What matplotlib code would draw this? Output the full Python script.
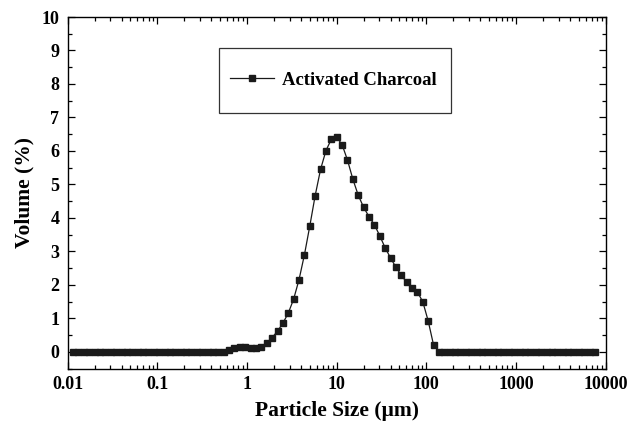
import matplotlib
matplotlib.use("Agg")
import matplotlib.pyplot as plt
from matplotlib.ticker import LogLocator, MultipleLocator, FixedLocator, FixedFormatter, NullFormatter
from matplotlib.patches import Rectangle

plt.rcParams['font.family'] = ['Liberation Serif', 'DejaVu Serif']
plt.rcParams['font.weight'] = 'bold'

# Particle size classes (µm)
particle_size = [
    0.011482, 0.013183, 0.015136, 0.017378, 0.019953, 0.022909, 0.026303, 0.030200,
    0.034674, 0.039811, 0.045709, 0.052481, 0.060256, 0.069183, 0.079433, 0.091201,
    0.10471, 0.12023, 0.13804, 0.15849, 0.18197, 0.20893, 0.23988, 0.27542,
    0.31623, 0.36308, 0.41687, 0.47863, 0.54954, 0.63096, 0.72444, 0.83176,
    0.95499, 1.0965, 1.2589, 1.4454, 1.6596, 1.9055, 2.1878, 2.5119,
    2.8840, 3.3113, 3.8019, 4.3652, 5.0119, 5.7544, 6.6069, 7.5858,
    8.7096, 10.000, 11.482, 13.183, 15.136, 17.378, 19.953, 22.909,
    26.303, 30.200, 34.674, 39.811, 45.709, 52.481, 60.256, 69.183,
    79.433, 91.201, 104.71, 120.23, 138.04, 158.49, 181.97, 208.93,
    239.88, 275.42, 316.23, 363.08, 416.87, 478.63, 549.54, 630.96,
    724.44, 831.76, 954.99, 1096.5, 1258.9, 1445.4, 1659.6, 1905.5,
    2187.8, 2511.9, 2884.0, 3311.3, 3801.9, 4365.2, 5011.9, 5754.4,
    6606.9, 7585.8,
]

# Volume (%)
volume = [
    0, 0, 0, 0, 0, 0, 0, 0, 0, 0, 0, 0, 0, 0, 0, 0, 0, 0, 0, 0,
    0, 0, 0, 0, 0, 0, 0, 0, 0,
    0.06, 0.12, 0.15, 0.14, 0.11, 0.11, 0.16, 0.27, 0.43, 0.62,
    0.86, 1.16, 1.58, 2.16, 2.90, 3.76, 4.67, 5.45, 6.01, 6.35,
    6.41, 6.19, 5.73, 5.16, 4.68, 4.32, 4.04, 3.80, 3.47, 3.11,
    2.81, 2.53, 2.29, 2.08, 1.92, 1.79, 1.50, 0.93, 0.21,
    0, 0, 0, 0, 0, 0, 0, 0, 0, 0, 0, 0, 0, 0, 0, 0, 0, 0, 0, 0,
    0, 0, 0, 0, 0, 0, 0, 0, 0, 0,
]

x_ticks = [0.01, 0.1, 1, 10, 100, 1000, 10000]
x_tick_labels = ['0.01', '0.1', '1', '10', '100', '1000', '10000']
y_ticks = [0, 1, 2, 3, 4, 5, 6, 7, 8, 9, 10]
series_label = 'Activated Charcoal'

W, H = 643, 430
fig = plt.figure(figsize=(W / 100, H / 100), dpi=100)
ax = fig.add_axes([67.7 / W, 1 - 368.7 / H, (605.7 - 67.7) / W, (368.7 - 17) / H])

line, = ax.plot(particle_size, volume, color='#1a1a1a', lw=0.9, marker='s',
                markersize=3.8, markerfacecolor='#1a1a1a', markeredgecolor='#1a1a1a',
                label=series_label)

ax.set_xscale('log')
ax.set_xlim(0.01, 10000)
ax.set_ylim(-0.5, 10)

ax.xaxis.set_major_locator(FixedLocator(x_ticks))
ax.xaxis.set_major_formatter(FixedFormatter(x_tick_labels))
ax.xaxis.set_minor_locator(LogLocator(base=10, subs=range(2, 10), numticks=20))
ax.xaxis.set_minor_formatter(NullFormatter())
ax.yaxis.set_major_locator(FixedLocator(y_ticks))
ax.yaxis.set_minor_locator(MultipleLocator(0.5))

ax.tick_params(which='both', direction='in', top=True, right=True, labelsize=13, width=0.9)
ax.tick_params(which='major', length=5)
ax.tick_params(which='minor', length=2.8)
ax.tick_params(axis='x', pad=5)
ax.tick_params(axis='y', pad=6)
for lbl in ax.get_xticklabels() + ax.get_yticklabels():
    lbl.set_fontweight('bold')
for sp in ax.spines.values():
    sp.set_linewidth(1.0)

ax.set_xlabel('Particle Size (µm)', fontsize=15.5, fontweight='bold', labelpad=6)
ax.set_ylabel('Volume (%)', fontsize=15.5, fontweight='bold', labelpad=5)

# legend frame
fig.patches.append(Rectangle((219 / W, 1 - 113 / H), (451 - 219) / W, (113 - 48) / H,
                             transform=fig.transFigure, fill=False, edgecolor='#333333',
                             linewidth=0.9))
leg = ax.legend(handles=[line], loc='center', bbox_to_anchor=(333 / W, 1 - 80 / H),
                bbox_transform=fig.transFigure, frameon=False, numpoints=1,
                handlelength=2.4, handletextpad=0.4,
                prop={'family': 'Liberation Serif', 'weight': 'bold', 'size': 13.4})

fig.savefig('out.png', dpi=100)
